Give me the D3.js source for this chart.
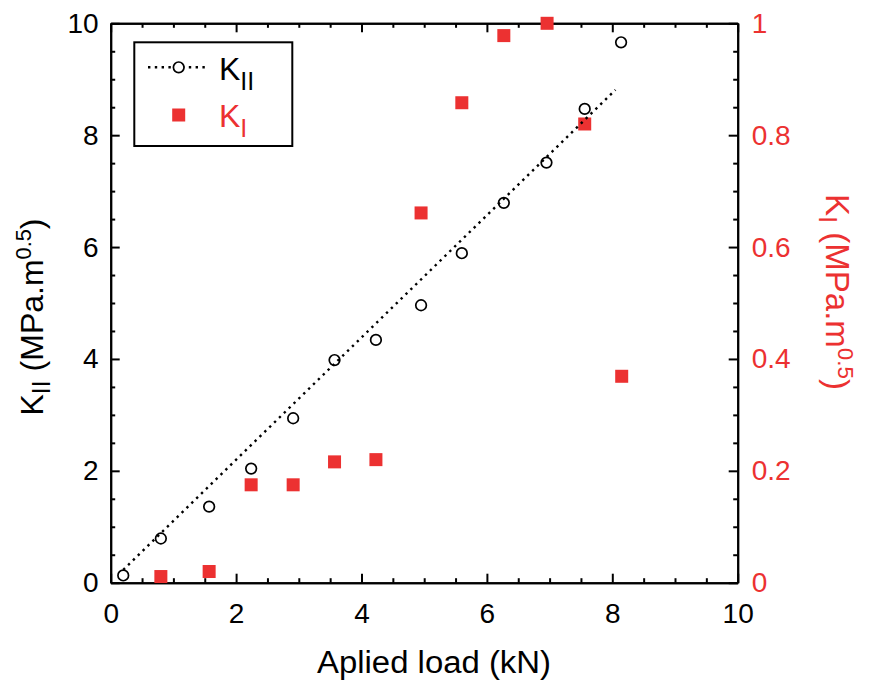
<!DOCTYPE html>
<html><head><meta charset="utf-8">
<script src="https://cdn.jsdelivr.net/npm/d3@7"></script>
<style>body{margin:0;background:#fff}svg{display:block}text{font-family:"Liberation Sans",Arial,sans-serif}</style>
</head><body>
<svg id="c" width="869" height="687"></svg>
<script>
const loads = [0.2, 0.8, 1.57, 2.24, 2.91, 3.57, 4.23, 4.95, 5.6, 6.27, 6.95, 7.56, 8.14];
const kII = [0.13, 0.79, 1.36, 2.04, 2.94, 3.98, 4.34, 4.96, 5.89, 6.79, 7.51, 8.47, 9.66];
const loadsKI = [0.8, 1.57, 2.24, 2.91, 3.57, 4.23, 4.95, 5.6, 6.27, 6.96, 7.56, 8.15];
const kI = [0.011, 0.02, 0.175, 0.175, 0.216, 0.22, 0.661, 0.858, 0.978, 1.0, 0.82, 0.369];
const fitX = [0.2, 8.05];
const fitY = [0.23, 8.81];
const xTicks = [0, 2, 4, 6, 8, 10];
const yLeftTicks = [0, 2, 4, 6, 8, 10];
const yRightTicks = [0, 0.2, 0.4, 0.6, 0.8, 1];

const RED = "#ec3131";
const svg = d3.select("#c");
const L = 110.7, R = 737.7, T = 23.3, B = 582.7;
const x = d3.scaleLinear().domain([0, 10]).range([L, R]);
const yL = d3.scaleLinear().domain([0, 10]).range([B, T]);
const yR = d3.scaleLinear().domain([0, 1]).range([B, T]);
const fmt = d => String(+d.toFixed(1));
const MAJ = 9, MIN = 4.5, FS = 28;

function styleAxis(g, color) {
  g.selectAll("path.domain").attr("stroke", "#000").attr("stroke-width", 2);
  g.selectAll(".tick line").attr("stroke", "#000").attr("stroke-width", 2);
  g.selectAll(".tick text").attr("font-size", FS).attr("fill", color || "#000")
    .attr("font-family", '"Liberation Sans", Arial, sans-serif');
}
const minorX = d3.range(0, 10.01, 0.5).filter(v => v % 2 !== 0);
const minorYL = d3.range(0, 10.01, 0.5).filter(v => v % 2 !== 0);
const minorYR = d3.range(0, 1.001, 0.05).map(v => +v.toFixed(2)).filter(v => Math.round(v * 100) % 20 !== 0);

// minor ticks
svg.append("g").attr("transform", `translate(0,${B})`)
  .call(d3.axisBottom(x).tickValues(minorX).tickSize(-MIN).tickFormat("").tickSizeOuter(0)).call(styleAxis);
svg.append("g").attr("transform", `translate(0,${T})`)
  .call(d3.axisTop(x).tickValues(minorX).tickSize(-MIN).tickFormat("").tickSizeOuter(0)).call(styleAxis);
svg.append("g").attr("transform", `translate(${L},0)`)
  .call(d3.axisLeft(yL).tickValues(minorYL).tickSize(-MIN).tickFormat("").tickSizeOuter(0)).call(styleAxis);
svg.append("g").attr("transform", `translate(${R},0)`)
  .call(d3.axisRight(yR).tickValues(minorYR).tickSize(-MIN).tickFormat("").tickSizeOuter(0)).call(styleAxis);

// major ticks
svg.append("g").attr("transform", `translate(0,${B})`)
  .call(d3.axisBottom(x).tickValues(xTicks).tickSize(-MAJ).tickPadding(20).tickFormat(fmt).tickSizeOuter(0)).call(styleAxis);
svg.append("g").attr("transform", `translate(0,${T})`)
  .call(d3.axisTop(x).tickValues(xTicks).tickSize(-MAJ).tickFormat("").tickSizeOuter(0)).call(styleAxis);
svg.append("g").attr("transform", `translate(${L},0)`)
  .call(d3.axisLeft(yL).tickValues(yLeftTicks).tickSize(-MAJ).tickPadding(12).tickFormat(fmt).tickSizeOuter(0)).call(styleAxis);
svg.append("g").attr("transform", `translate(${R},0)`)
  .call(d3.axisRight(yR).tickValues(yRightTicks).tickSize(-MAJ).tickPadding(14).tickFormat(fmt).tickSizeOuter(0)).call(g => styleAxis(g, RED));

// KI squares
const SQ = 13;
svg.append("g").selectAll("rect").data(loadsKI).join("rect")
  .attr("x", (d, i) => x(d) - SQ / 2).attr("y", (d, i) => yR(kI[i]) - SQ / 2)
  .attr("width", SQ).attr("height", SQ).attr("fill", RED);

// fit line
svg.append("path").datum(fitX.map((d, i) => [d, fitY[i]]))
  .attr("d", d3.line().x(d => x(d[0])).y(d => yL(d[1])))
  .attr("fill", "none").attr("stroke", "#000").attr("stroke-width", 2.4)
  .attr("stroke-dasharray", "2.4,4.4");

// KII circles
svg.append("g").selectAll("circle").data(loads).join("circle")
  .attr("cx", d => x(d)).attr("cy", (d, i) => yL(kII[i])).attr("r", 5.3)
  .attr("fill", "none").attr("stroke", "#000").attr("stroke-width", 1.7);

// axis titles
svg.append("text").attr("x", 434).attr("y", 673).attr("text-anchor", "middle")
  .attr("font-size", 31).attr("textLength", 234).attr("lengthAdjust", "spacingAndGlyphs")
  .text("Aplied load (kN)");

function title(sel, sub, fs) {
  sel.append("tspan").text("K");
  sel.append("tspan").attr("font-size", fs * 0.78).attr("dy", 7).text(sub);
  sel.append("tspan").attr("dy", -7).text(" (MPa.m");
  sel.append("tspan").attr("font-size", fs * 0.68).attr("dy", -12).text("0.5");
  sel.append("tspan").attr("dy", 12).text(")");
}
svg.append("text").attr("transform", `translate(43,${317}) rotate(-90)`).attr("text-anchor", "middle")
  .attr("font-size", 32).attr("fill", "#000").call(s => title(s, "II", 32));
svg.append("text").attr("transform", `translate(826,${292}) rotate(90)`).attr("text-anchor", "middle")
  .attr("font-size", 33).attr("fill", RED).call(s => title(s, "I", 33));

// legend
const lg = svg.append("g");
lg.append("rect").attr("x", 134.3).attr("y", 42.3).attr("width", 158).attr("height", 103.7)
  .attr("fill", "#fff").attr("stroke", "#000").attr("stroke-width", 2);
lg.append("line").attr("x1", 148).attr("x2", 209).attr("y1", 67.3).attr("y2", 67.3)
  .attr("stroke", "#000").attr("stroke-width", 2.4).attr("stroke-dasharray", "2.4,4.4");
lg.append("circle").attr("cx", 178.7).attr("cy", 67.3).attr("r", 5.3)
  .attr("fill", "#fff").attr("stroke", "#000").attr("stroke-width", 1.7);
lg.append("rect").attr("x", 178.7 - SQ / 2).attr("y", 115 - SQ / 2).attr("width", SQ).attr("height", SQ).attr("fill", RED);
const t1 = lg.append("text").attr("x", 219).attr("y", 80).attr("font-size", 32).attr("fill", "#000");
t1.append("tspan").text("K");
t1.append("tspan").attr("font-size", 25).attr("dy", 10).text("II");
const t2 = lg.append("text").attr("x", 219).attr("y", 127).attr("font-size", 32).attr("fill", RED);
t2.append("tspan").text("K");
t2.append("tspan").attr("font-size", 25).attr("dy", 10).text("I");
</script>
</body></html>
